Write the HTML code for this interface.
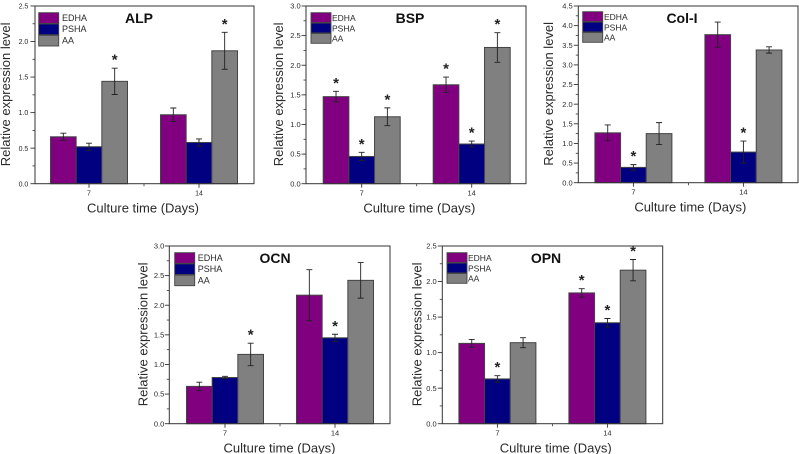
<!DOCTYPE html>
<html>
<head>
<meta charset="utf-8">
<title>Relative expression level charts</title>
<style>
html,body{margin:0;padding:0;background:#fff;}
svg{display:block;font-family:"Liberation Sans",Arial,sans-serif;filter:blur(0.3px);}
</style>
</head>
<body>
<svg id="figure" width="799" height="454" viewBox="0 0 799 454" xmlns="http://www.w3.org/2000/svg"></svg>
<script>
// Shared categories and labels
const categories = ['7', '14'];
const seriesNames = ['EDHA', 'PSHA', 'AA'];
const seriesColors = ['#800080', '#000080', '#808080'];

// ALP
const alpTicks = [0, 0.5, 1, 1.5, 2, 2.5];
const alpEdha = [0.66, 0.97];
const alpPsha = [0.52, 0.58];
const alpAa = [1.44, 1.87];
const alpEdhaErr = [0.05, 0.095];
const alpPshaErr = [0.05, 0.05];
const alpAaErr = [0.185, 0.26];
const alpStars = [[0, 0], [0, 0], [1, 1]];

// BSP
const bspTicks = [0, 0.5, 1, 1.5, 2, 2.5, 3];
const bspEdha = [1.47, 1.67];
const bspPsha = [0.46, 0.67];
const bspAa = [1.13, 2.30];
const bspEdhaErr = [0.09, 0.13];
const bspPshaErr = [0.07, 0.05];
const bspAaErr = [0.15, 0.25];
const bspStars = [[1, 1], [1, 1], [1, 1]];

// Col-I
const colTicks = [0, 0.5, 1, 1.5, 2, 2.5, 3, 3.5, 4, 4.5];
const colEdha = [1.27, 3.77];
const colPsha = [0.39, 0.78];
const colAa = [1.25, 3.38];
const colEdhaErr = [0.20, 0.32];
const colPshaErr = [0.07, 0.28];
const colAaErr = [0.28, 0.08];
const colStars = [[0, 0], [1, 1], [0, 0]];

// OCN
const ocnTicks = [0, 0.5, 1, 1.5, 2, 2.5, 3];
const ocnEdha = [0.63, 2.17];
const ocnPsha = [0.78, 1.45];
const ocnAa = [1.17, 2.42];
const ocnEdhaErr = [0.07, 0.43];
const ocnPshaErr = [0.02, 0.06];
const ocnAaErr = [0.19, 0.30];
const ocnStars = [[0, 0], [0, 1], [1, 0]];

// OPN
const opnTicks = [0, 0.5, 1, 1.5, 2, 2.5];
const opnEdha = [1.13, 1.84];
const opnPsha = [0.63, 1.42];
const opnAa = [1.14, 2.16];
const opnEdhaErr = [0.055, 0.06];
const opnPshaErr = [0.045, 0.06];
const opnAaErr = [0.07, 0.15];
const opnStars = [[0, 1], [1, 1], [0, 1]];

const panels = [
  {name:'alp', title:'ALP', left:35, right:254, top:6, bottom:183.7, center:89, titleX:139, titleY:18, xTitleX:143, yTitleX:10, tickFont:7, labelGap:6.7,
   legendX:38.7, legendY:12.7, legendStep:11.3, legendTextGap:23.3, legendFont:9,
   ticks:alpTicks, values:[alpEdha,alpPsha,alpAa], errors:[alpEdhaErr,alpPshaErr,alpAaErr], stars:alpStars},
  {name:'bsp', title:'BSP', left:306, right:526, top:6, bottom:183.7, center:361.7, titleX:410, titleY:18, xTitleX:419.3, yTitleX:283, tickFont:7.5, labelGap:5.3,
   legendX:311, legendY:12.7, legendStep:10.4, legendTextGap:21, legendFont:8.5,
   ticks:bspTicks, values:[bspEdha,bspPsha,bspAa], errors:[bspEdhaErr,bspPshaErr,bspAaErr], stars:bspStars},
  {name:'col-i', title:'Col-I', left:578.3, right:798, top:6, bottom:182.7, center:633.4, titleX:682, titleY:18, xTitleX:690.3, yTitleX:553, tickFont:7.5, labelGap:5.6,
   legendX:582.7, legendY:11.7, legendStep:10.4, legendTextGap:21.3, legendFont:8.5,
   ticks:colTicks, values:[colEdha,colPsha,colAa], errors:[colEdhaErr,colPshaErr,colAaErr], stars:colStars},
  {name:'ocn', title:'OCN', left:169.3, right:390, top:246, bottom:423.7, center:225, titleX:275, titleY:258, xTitleX:279.5, yTitleX:147.5, tickFont:7.5, labelGap:5,
   legendX:174.7, legendY:252.7, legendStep:11.2, legendTextGap:23, legendFont:9,
   ticks:ocnTicks, values:[ocnEdha,ocnPsha,ocnAa], errors:[ocnEdhaErr,ocnPshaErr,ocnAaErr], stars:ocnStars},
  {name:'opn', title:'OPN', left:442.3, right:662.7, top:246, bottom:423.7, center:497.4, titleX:546, titleY:258, xTitleX:555.7, yTitleX:421.5, tickFont:7.5, labelGap:5.6,
   legendX:447, legendY:252.7, legendStep:10.4, legendTextGap:21, legendFont:8.5,
   ticks:opnTicks, values:[opnEdha,opnPsha,opnAa], errors:[opnEdhaErr,opnPshaErr,opnAaErr], stars:opnStars}
];

const NS = 'http://www.w3.org/2000/svg';
const root = document.getElementById('figure');
const barW = 25.67;
const groupSpacing = 110;
const ink = '#333';
const textInk = '#2a2a2a';

function make(tag, parent, attrs, content) {
  const node = document.createElementNS(NS, tag);
  for (const k in attrs) node.setAttribute(k, attrs[k]);
  if (content !== undefined) node.textContent = content;
  parent.appendChild(node);
  return node;
}

panels.forEach(function (p) {
  const g = make('g', root, {});
  
  

  const maxY = p.ticks[p.ticks.length - 1];
  const y = function (v) { return p.bottom - (v / maxY) * (p.bottom - p.top); };
  const plotW = p.right - p.left;
  const groupCenter = function (i) { return p.center + i * groupSpacing; };
  const barX = function (i, s) { return groupCenter(i) + (s - 1.5) * barW; };

  // Bars
  p.values.forEach(function (vals, s) {
    vals.forEach(function (v, i) {
      const x = barX(i, s);
      const bar = make('rect', g, {x: x, y: y(v), width: barW, height: p.bottom - y(v), fill: seriesColors[s], stroke: '#444', 'stroke-width': 1});
      
      
    });
  });

  // Error bars and significance stars
  p.values.forEach(function (vals, s) {
    vals.forEach(function (v, i) {
      const cx = barX(i, s) + barW / 2;
      const e = p.errors[s][i];
      const t = y(v + e), b = y(v - e);
      const err = make('path', g, {d: 'M' + cx + ' ' + t + 'V' + b + 'M' + (cx - 3) + ' ' + t + 'H' + (cx + 3) + 'M' + (cx - 3) + ' ' + b + 'H' + (cx + 3), stroke: '#222', 'stroke-width': 0.9, fill: 'none'});
      
      
      if (p.stars[s][i]) {
        const star = make('text', g, {x: cx, y: t - 3.5, 'text-anchor': 'middle', 'font-size': 15, 'font-weight': 'bold', fill: '#222'}, '*');
        
        
      }
    });
  });

  // Frame
  const frame = make('rect', g, {x: p.left, y: p.top, width: plotW, height: p.bottom - p.top, fill: 'none', stroke: ink, 'stroke-width': 1});
  
  

  // Y ticks
  p.ticks.forEach(function (tv, idx) {
    const ty = y(tv);
    const tick = make('line', g, {x1: p.left - 4.5, x2: p.left, y1: ty, y2: ty, stroke: ink, 'stroke-width': 0.9});
    
    
    const lab = make('text', g, {x: p.left - p.labelGap, y: ty + 2.6, 'text-anchor': 'end', 'font-size': p.tickFont, fill: textInk}, tv.toFixed(1));
    
    
    if (idx < p.ticks.length - 1) {
      const my = y(tv + (p.ticks[1] - p.ticks[0]) / 2);
      const minor = make('line', g, {x1: p.left - 2.5, x2: p.left, y1: my, y2: my, stroke: ink, 'stroke-width': 0.8});
      
      
    }
  });

  // X ticks
  categories.forEach(function (c, i) {
    const tx = groupCenter(i);
    const tick = make('line', g, {x1: tx, x2: tx, y1: p.bottom, y2: p.bottom + 4, stroke: ink, 'stroke-width': 0.9});
    
    
    const lab = make('text', g, {x: tx, y: p.bottom + 12, 'text-anchor': 'middle', 'font-size': p.tickFont, fill: textInk}, c);
    
    
  });
  const midX = groupCenter(0) + groupSpacing / 2;
  const midTick = make('line', g, {x1: midX, x2: midX, y1: p.bottom, y2: p.bottom + 2.5, stroke: ink, 'stroke-width': 0.8});
  
  

  // Axis titles
  const xTitle = make('text', g, {x: p.xTitleX, y: p.bottom + 29, 'text-anchor': 'middle', 'font-size': 13, fill: textInk}, 'Culture time (Days)');
  
  
  const yCy = (p.top + p.bottom) / 2 - 0.5;
  const yTitle = make('text', g, {x: p.yTitleX, y: yCy, 'text-anchor': 'middle', 'font-size': 13, fill: textInk, transform: 'rotate(-90 ' + p.yTitleX + ' ' + yCy + ')'}, 'Relative expression level');
  
  

  // Chart title
  const title = make('text', g, {x: p.titleX, y: p.titleY + 5, 'text-anchor': 'middle', 'font-size': 14, 'font-weight': 'bold', fill: '#111'}, p.title);
  
  

  // Legend
  seriesNames.forEach(function (n, s) {
    const ly = p.legendY + s * p.legendStep;
    const swatch = make('rect', g, {x: p.legendX, y: ly, width: 20, height: p.legendStep - 0.6, fill: seriesColors[s], stroke: '#444', 'stroke-width': 0.9});
    
    
    const lt = make('text', g, {x: p.legendX + p.legendTextGap, y: ly + 8.2, 'font-size': p.legendFont, fill: textInk}, n);
    
    
  });
});
</script>
</body>
</html>
